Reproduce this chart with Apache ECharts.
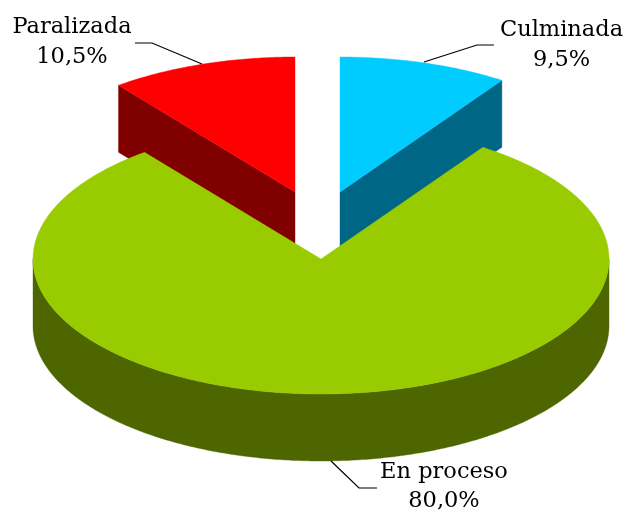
<!DOCTYPE html>
<html>
<head>
<meta charset="utf-8">
<style>html,body{margin:0;padding:0;background:#fff}#c{width:628px;height:514px}</style>
<script src="https://cdn.jsdelivr.net/npm/echarts@6/dist/echarts.min.js"></script>
</head>
<body>
<div id="c"></div>
<script>
const categories = ['Culminada', 'En proceso', 'Paralizada'];
const values = [9.5, 80.0, 10.5];
const topColors = ['#00CCFF', '#99CC00', '#FF0000'];
const wallColors = ['#006685', '#4D6600', '#800000'];

const pie = { cx: 321, cy: 259, rx: 288, ry: 135, depth: 67 };
const explode = [[19, -67], [0, 0], [-26, -67]];
const labelLayout = [
  { x: 561.5, y1: 30, y2: 60.5, line: [[424, 62], [477, 45], [494, 45]] },
  { x: 444, y1: 472.5, y2: 501, line: [[331, 461], [359, 488], [377, 488]] },
  { x: 72, y1: 27, y2: 57, line: [[202, 64], [152, 43], [135, 43]] }
];
const font = '22.5px "DejaVu Serif"';

function pt(theta, ox, oy, dz) {
  return [pie.cx + ox + pie.rx * Math.sin(theta), pie.cy + oy + dz - pie.ry * Math.cos(theta)];
}
function arc(a0, a1, ox, oy, dz) {
  const n = Math.max(2, Math.ceil(Math.abs(a1 - a0) / 0.01)), out = [];
  for (let i = 0; i <= n; i++) out.push(pt(a0 + (a1 - a0) * i / n, ox, oy, dz));
  return out;
}
const total = values.reduce((a, b) => a + b, 0);

function renderItem(params, api) {
  const i = params.dataIndex;
  const v = api.value(0);
  let before = 0;
  for (let k = 0; k < i; k++) before += values[k];
  const a0 = before / total * 2 * Math.PI;
  const a1 = (before + v) / total * 2 * Math.PI;
  const [ox, oy] = explode[i];
  const apex = [pie.cx + ox, pie.cy + oy];
  const z = i === 1 ? 10 : 1;
  const children = [];
  const poly = (points, fill, zz) => children.push({
    type: 'polygon', shape: { points }, z2: zz,
    style: { fill, stroke: fill, lineWidth: 0.4 }
  });

  // side walls visible to the viewer
  if (i === 0) {
    const e = pt(a1, ox, oy, 0);
    poly([apex, e, [e[0], e[1] + pie.depth], [apex[0], apex[1] + pie.depth]], wallColors[i], z);
  } else if (i === 2) {
    const s = pt(a0, ox, oy, 0);
    poly([apex, s, [s[0], s[1] + pie.depth], [apex[0], apex[1] + pie.depth]], wallColors[i], z);
  } else {
    const front = arc(Math.max(a0, Math.PI / 2), Math.min(a1, 3 * Math.PI / 2), ox, oy, 0);
    const lower = arc(Math.min(a1, 3 * Math.PI / 2), Math.max(a0, Math.PI / 2), ox, oy, pie.depth);
    poly(front.concat(lower), wallColors[i], z);
  }
  // top face
  poly([apex].concat(arc(a0, a1, ox, oy, 0)), topColors[i], z + 1);

  // leader and label
  const lay = labelLayout[i];
  children.push({
    type: 'polyline', shape: { points: lay.line }, z2: 20,
    style: { fill: 'none', stroke: '#000', lineWidth: 1.2 }
  });
  const txt = (text, y) => children.push({
    type: 'text', z2: 21,
    style: { text, x: lay.x, y, font, fill: '#000', textAlign: 'center', textVerticalAlign: 'middle' }
  });
  txt(categories[i], lay.y1);
  txt(v.toFixed(1).replace('.', ',') + '%', lay.y2);
  return { type: 'group', children };
}

const chart = echarts.init(document.getElementById('c'), null, { renderer: 'canvas' });
chart.setOption({
  animation: false,
  backgroundColor: '#fff',
  series: [{
    type: 'custom',
    coordinateSystem: 'none',
    renderItem,
    data: values.map((v, i) => ({ name: categories[i], value: v }))
  }]
});
</script>
</body>
</html>
